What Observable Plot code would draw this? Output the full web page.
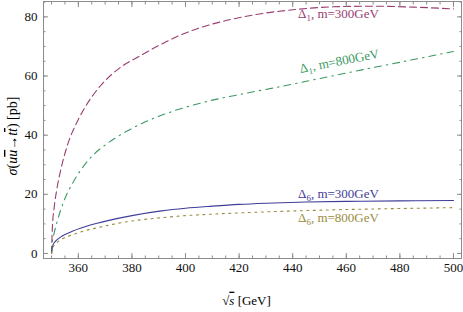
<!DOCTYPE html>
<html><head><meta charset="utf-8">
<script src="https://cdn.jsdelivr.net/npm/d3@7"></script>
<script src="https://cdn.jsdelivr.net/npm/@observablehq/plot@0.6"></script>
<style>body{margin:0;background:#fff} svg{display:block}</style>
</head><body><div id="chart"></div>
<script>
// ---- data ----
const seriesNames = ["Δ1, m=300GeV", "Δ1, m=800GeV", "Δ6, m=300GeV", "Δ6, m=800GeV"];

const sqrtS_d1_300 = [350, 350.3, 351, 352, 353.5, 356, 360, 365, 370, 376, 383, 390, 398, 405, 414, 427, 440, 455, 470, 485, 500];
const sigma_d1_300 = [0, 8.6, 15.6, 21.8, 28.5, 36.8, 45.3, 52.9, 58.4, 63.1, 66.8, 70.3, 73.8, 76.2, 78.5, 80.9, 82.4, 83.4, 83.6, 83.3, 82.7];

const sqrtS_d1_800 = [350, 350.3, 351, 352.2, 354.7, 358.4, 364.7, 371, 378.4, 386, 396, 408, 421, 437, 452, 467, 483, 500];
const sigma_d1_800 = [0, 4, 7, 11.1, 17.9, 24.6, 32.5, 37.3, 41.5, 44.9, 48.3, 51.4, 53.9, 56.7, 59.5, 62.3, 65.2, 68.3];

const sqrtS_d6_300 = [350, 350.3, 351, 352, 354, 358, 361, 367, 371, 380, 391, 400, 410, 420, 430, 445, 460, 480, 500];
const sigma_d6_300 = [0, 2.2, 3.6, 4.6, 5.9, 7.6, 8.6, 10.2, 11.1, 12.8, 14.4, 15.3, 16.0, 16.6, 17.0, 17.4, 17.6, 17.8, 17.9];

const sqrtS_d6_800 = [350, 350.3, 351, 352, 354, 358, 361, 367, 371, 380, 391, 400, 410, 425, 445, 462, 480, 500];
const sigma_d6_800 = [0, 1.6, 2.8, 3.7, 4.9, 6.4, 7.3, 8.7, 9.5, 11, 12.1, 12.8, 13.3, 13.9, 14.5, 14.9, 15.2, 15.5];

const xTickLabels = [360, 380, 400, 420, 440, 460, 480, 500];
const yTickLabels = [0, 20, 40, 60, 80];
const xMinorTicks = d3.range(350, 501, 5);
const yMinorTicks = d3.range(0, 86, 5);

const xTitle = "√s [GeV]";
const yTitle = "σ(uū→tt̄) [pb]";

// label anchor points, in data units (GeV, pb)
const labelX = [442, 457.4, 442, 442];
const labelY = [81.0, 65.0, 20.0, 12.1];

// ---- styling ----
const colors = ["#993d71", "#3d9963", "#3f3d99", "#998c3d"];
const dashes = ["7,4", "7,5,1.5,5", null, "2,4.5"];
const frameColor = "#8c8c8c";
const FONT = "'Liberation Serif', 'DejaVu Serif', serif";

const xs = [sqrtS_d1_300, sqrtS_d1_800, sqrtS_d6_300, sqrtS_d6_800];
const ys = [sigma_d1_300, sigma_d1_800, sigma_d6_300, sigma_d6_800];
const rows = seriesNames.map((name, i) => xs[i].map((x, j) => ({series: name, x, y: ys[i][j]})));
const labels = seriesNames.map((name, i) => ({name, x: labelX[i], y: labelY[i], i}));

const lineMarks = rows.map((r, i) => Plot.line(r, {
  x: "x", y: "y", stroke: colors[i], strokeWidth: 1.1, curve: "monotone-x",
  strokeDasharray: dashes[i] ?? undefined
}));

const labelMarks = labels.map(l => Plot.text([l], {
  x: "x", y: "y", text: "name", fill: colors[l.i], fontSize: 13,
  textAnchor: l.i === 1 ? "middle" : "start", rotate: l.i === 1 ? -11 : 0
}));

const blank = () => "";
const chart = Plot.plot({
  width: 463, height: 312,
  marginLeft: 43, marginRight: 2, marginTop: 1, marginBottom: 54,
  style: {fontFamily: FONT, fontSize: "13px", background: "#fff", color: "#000"},
  x: {domain: [347, 503]},
  y: {domain: [-1.7, 85.2]},
  marks: [
    ...lineMarks,
    Plot.frame({stroke: frameColor}),
    // minor ticks (inward) on all four sides
    Plot.axisX(xMinorTicks, {anchor: "bottom", tickSize: -2.5, tickFormat: blank, color: frameColor, label: null}),
    Plot.axisX(xMinorTicks, {anchor: "top", tickSize: -2.5, tickFormat: blank, color: frameColor, label: null}),
    Plot.axisY(yMinorTicks, {anchor: "left", tickSize: -2.5, tickFormat: blank, color: frameColor, label: null}),
    Plot.axisY(yMinorTicks, {anchor: "right", tickSize: -2.5, tickFormat: blank, color: frameColor, label: null}),
    // major ticks
    Plot.axisX(xTickLabels, {anchor: "bottom", tickSize: -5, tickFormat: blank, color: frameColor, label: null}),
    Plot.axisX(xTickLabels, {anchor: "top", tickSize: -5, tickFormat: blank, color: frameColor, label: null}),
    Plot.axisY(yTickLabels, {anchor: "left", tickSize: -5, tickFormat: blank, color: frameColor, label: null}),
    Plot.axisY(yTickLabels, {anchor: "right", tickSize: -5, tickFormat: blank, color: frameColor, label: null}),
    // tick labels
    Plot.axisX(xTickLabels, {anchor: "bottom", tickSize: 0, tickPadding: 4, color: "#111", fontSize: 13, label: null}),
    Plot.axisY(yTickLabels, {anchor: "left", tickSize: 0, tickPadding: 6, color: "#111", fontSize: 13, label: null}),
    // titles
    Plot.text([xTitle], {text: d => d, frameAnchor: "bottom", textAnchor: "middle", lineAnchor: "middle", dx: -6, dy: 42, fontSize: 13, fill: "#000"}),
    Plot.text([yTitle], {text: d => d, frameAnchor: "left", textAnchor: "middle", lineAnchor: "middle", dx: -31, dy: 6, rotate: -90, fontSize: 14, fill: "#000"}),
    ...labelMarks
  ]
});
document.getElementById("chart").appendChild(chart);

// ---- rich text: italics, sub/overlines ----
function rich(el, parts) {
  el.textContent = "";
  for (const p of parts) {
    const ts = document.createElementNS("http://www.w3.org/2000/svg", "tspan");
    ts.textContent = p.t;
    if (p.it) ts.setAttribute("font-style", "italic");
    if (p.over) ts.setAttribute("text-decoration", "overline");
    if (p.sub) { ts.setAttribute("font-size", "9"); ts.setAttribute("dy", "3"); }
    if (p.after) ts.setAttribute("dy", "-3");
    el.appendChild(ts);
  }
}
chart.querySelectorAll("text").forEach(el => {
  const s = el.textContent;
  if (s === yTitle) {
    el.setAttribute("text-anchor", "middle");
    rich(el, [{t: "σ", it: 1}, {t: "("}, {t: "u", it: 1}, {t: "u", it: 1, over: 1}, {t: "→"}, {t: "t", it: 1}, {t: "t", it: 1, over: 1}, {t: ") [pb]"}]);
  } else if (s === xTitle) {
    el.setAttribute("text-anchor", "middle");
    rich(el, [{t: "√"}, {t: "s", it: 1, over: 1}, {t: " [GeV]"}]);
  } else if (seriesNames.includes(s)) {
    rich(el, [{t: "Δ"}, {t: s[1], sub: 1}, {t: s.slice(2), after: 1}]);
  }
});
</script>
</body></html>
